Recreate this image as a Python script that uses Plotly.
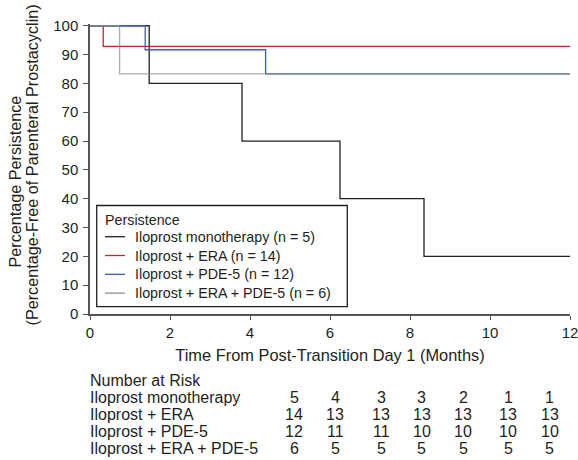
import plotly.graph_objects as go

# ---- data ----
mono_t = [0, 1.48, 3.80, 6.25, 8.35, 12]
mono_s = [100, 80, 60, 40, 20, 20]
era_t = [0, 0.33, 12]
era_s = [100, 92.86, 92.86]
pde_t = [0, 1.38, 4.39, 12]
pde_s = [100, 91.67, 83.33, 83.33]
combo_t = [0, 0.74, 12]
combo_s = [100, 83.33, 83.33]

legend_title = "Persistence"
series_names = [
    "Iloprost monotherapy (n = 5)",
    "Iloprost + ERA (n = 14)",
    "Iloprost + PDE-5 (n = 12)",
    "Iloprost + ERA + PDE-5 (n = 6)",
]
x_ticks = [0, 2, 4, 6, 8, 10, 12]
y_ticks = [0, 10, 20, 30, 40, 50, 60, 70, 80, 90, 100]

risk_title = "Number at Risk"
risk_labels = ["Iloprost monotherapy", "Iloprost + ERA", "Iloprost + PDE-5", "Iloprost + ERA + PDE-5"]
risk_mono = [5, 4, 3, 3, 2, 1, 1]
risk_era = [14, 13, 13, 13, 13, 13, 13]
risk_pde = [12, 11, 11, 10, 10, 10, 10]
risk_combo = [6, 5, 5, 5, 5, 5, 5]

# ---- layout geometry (pixels) ----
W, H = 578, 460
ML, MR, MT, MB = 90, 8, 24, 146
PW = W - ML - MR
PH = H - MT - MB
YMAX = 100.6

def px_x(px):
    return (px - ML) / PW

def px_y(py):
    return (H - MB - py) / PH

FONT = "Liberation Sans, Arial, sans-serif"
TXT = "#231f20"
AX = "#555555"

colors = ["#231f20", "#c0272d", "#3f5fae", "#8f8f8f"]
opac = [1, 1, 1, 0.75]
curves = [(mono_t, mono_s), (era_t, era_s), (pde_t, pde_s), (combo_t, combo_s)]

fig = go.Figure()
for (t, s), name, c, o in zip(curves, series_names, colors, opac):
    fig.add_trace(go.Scatter(
        x=t, y=s, mode="lines", name=name,
        line=dict(color=c, width=1.3, shape="hv"),
        opacity=o, showlegend=False,
    ))

fig.update_layout(
    width=W, height=H,
    margin=dict(l=ML, r=MR, t=MT, b=MB, pad=0, autoexpand=False),
    plot_bgcolor="white", paper_bgcolor="white",
    font=dict(family=FONT, color=TXT, size=14),
    showlegend=False,
    xaxis=dict(
        range=[0, 12], tickvals=x_ticks, ticks="outside", ticklen=4,
        tickcolor=AX, tickwidth=1.3, ticklabeloverflow="allow", automargin=False,
        showline=True, linecolor=AX, linewidth=1.5,
        showgrid=False, zeroline=False,
        tickfont=dict(size=15, family=FONT, color=TXT),
        title=dict(text="Time From Post-Transition Day 1 (Months)",
                   font=dict(size=16.4, family=FONT, color=TXT), standoff=10),
    ),
    yaxis=dict(
        range=[0, YMAX], tickvals=y_ticks, ticks="outside", ticklen=5,
        tickcolor=AX, tickwidth=1.3, automargin=False,
        showline=True, linecolor=AX, linewidth=1.5,
        showgrid=False, zeroline=False, ticklabelstandoff=2,
        tickfont=dict(size=15, family=FONT, color=TXT),
    ),
)

annotations = []
shapes = []

# y axis title (two lines)
annotations.append(dict(text="Percentage Persistence", x=px_x(14.5), y=px_y(182),
                        xref="paper", yref="paper", showarrow=False, textangle=-90,
                        font=dict(size=16.2, family=FONT, color=TXT),
                        xanchor="center", yanchor="middle"))
annotations.append(dict(text="(Percentage-Free of Parenteral Prostacyclin)", x=px_x(31.5), y=px_y(165),
                        xref="paper", yref="paper", showarrow=False, textangle=-90,
                        font=dict(size=16.2, family=FONT, color=TXT),
                        xanchor="center", yanchor="middle"))

# legend (drawn as a framed box)
LX0, LX1, LY0, LY1 = 96.7, 347.3, 205.5, 306.7
shapes.append(dict(type="rect", xref="paper", yref="paper", layer="above",
                   x0=px_x(LX0), x1=px_x(LX1), y0=px_y(LY1), y1=px_y(LY0),
                   line=dict(color="#231f20", width=1.3), fillcolor="white"))
annotations.append(dict(text=legend_title, x=px_x(102.5), y=px_y(219.5), xref="paper", yref="paper",
                        showarrow=False, xanchor="left", yanchor="middle",
                        font=dict(size=14.3, family=FONT, color=TXT)))
leg_rows = [236.7, 255.5, 274.3, 293.1]
for name, c, ry in zip(series_names, colors, leg_rows):
    shapes.append(dict(type="line", xref="paper", yref="paper", layer="above",
                       x0=px_x(105), x1=px_x(125), y0=px_y(ry), y1=px_y(ry),
                       line=dict(color=c, width=1.3)))
    annotations.append(dict(text=name, x=px_x(132.5), y=px_y(ry), xref="paper", yref="paper",
                            showarrow=False, xanchor="left", yanchor="middle",
                            font=dict(size=14.3, family=FONT, color=TXT)))

# number at risk table
row_y = [380.5, 397.5, 414.5, 431.5, 448.5]
col_x = [294, 335, 381, 421.5, 463.3, 508, 549.5]
annotations.append(dict(text=risk_title, x=px_x(87.5), y=px_y(row_y[0]), xref="paper", yref="paper",
                        showarrow=False, xanchor="left", yanchor="middle",
                        font=dict(size=16, family=FONT, color=TXT)))
for i, (lab, counts) in enumerate(zip(risk_labels, [risk_mono, risk_era, risk_pde, risk_combo])):
    yy = px_y(row_y[i + 1])
    annotations.append(dict(text=lab, x=px_x(87.5), y=yy, xref="paper", yref="paper",
                            showarrow=False, xanchor="left", yanchor="middle",
                            font=dict(size=16, family=FONT, color=TXT)))
    for cx, v in zip(col_x, counts):
        annotations.append(dict(text=str(v), x=px_x(cx), y=yy, xref="paper", yref="paper",
                                showarrow=False, xanchor="center", yanchor="middle",
                                font=dict(size=16, family=FONT, color=TXT)))

fig.update_layout(annotations=annotations, shapes=shapes)
fig.write_html("out.html")
